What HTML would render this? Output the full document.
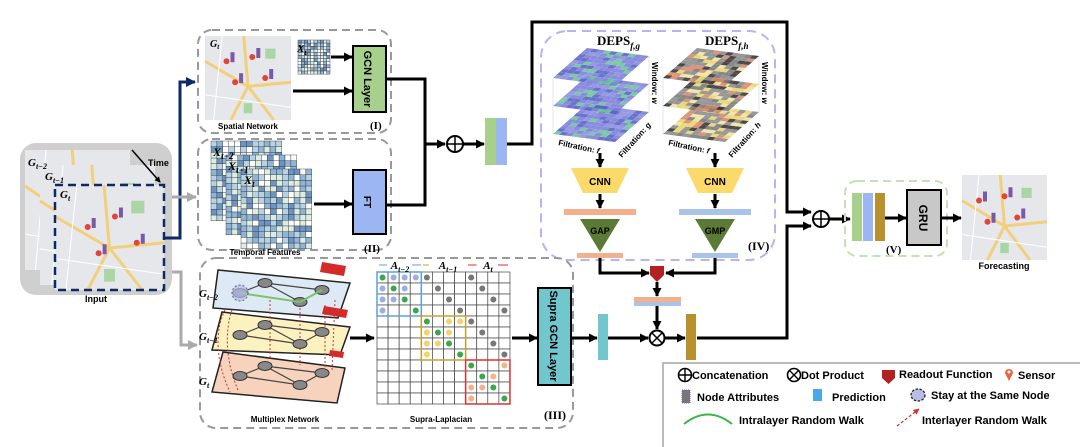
<!DOCTYPE html>
<html><head><meta charset="utf-8"><style>
html,body{margin:0;padding:0;background:#fff;}
svg{display:block;font-family:"Liberation Sans",sans-serif;}
.b{font-weight:bold;}
.s{font-family:"Liberation Serif",serif;font-weight:bold;font-style:italic;}
</style></head><body>
<svg id="s" width="1080" height="447" viewBox="0 0 1080 447" xmlns="http://www.w3.org/2000/svg">
<defs>
<marker id="ah" markerWidth="6" markerHeight="6" refX="5" refY="3" orient="auto" markerUnits="userSpaceOnUse"><path d="M0,0 L6,3 L0,6 z" fill="#000"/></marker>
<marker id="ahb" viewBox="0 0 10 10" markerWidth="9" markerHeight="9" refX="9" refY="5" orient="auto" markerUnits="userSpaceOnUse"><path d="M0,0 L10,5 L0,10 z" fill="#000"/></marker>
<marker id="ahn" viewBox="0 0 10 10" markerWidth="10" markerHeight="10" refX="9" refY="5" orient="auto" markerUnits="userSpaceOnUse"><path d="M0,0 L10,5 L0,10 z" fill="#0d2a66"/></marker>
<marker id="ahg" viewBox="0 0 10 10" markerWidth="10" markerHeight="10" refX="9" refY="5" orient="auto" markerUnits="userSpaceOnUse"><path d="M0,0 L10,5 L0,10 z" fill="#aaa"/></marker>
<marker id="ahr" viewBox="0 0 10 10" markerWidth="6" markerHeight="6" refX="9" refY="5" orient="auto" markerUnits="userSpaceOnUse"><path d="M0,0 L10,5 L0,10 z" fill="#c33"/></marker>
</defs>
<g id="g"></g>
</svg>
<script>
var S='';
function R(n){var x=Math.sin(n*12.9898+78.233)*43758.5453;return x-Math.floor(x);}
function map(x,y,w,h,k,pins){
 var s='<rect x="'+x+'" y="'+y+'" width="'+w+'" height="'+h+'" fill="#e6e7ea"/>';
 s+='<g stroke="#f2cf7a" stroke-width="3" fill="none">';
 s+='<path d="M'+x+','+(y+h*0.3)+' L'+(x+w*0.5)+','+(y+h*0.6)+' L'+(x+w)+','+(y+h*0.55)+'"/>';
 s+='<path d="M'+(x+w*0.45)+','+y+' L'+(x+w*0.5)+','+(y+h*0.6)+' L'+(x+w*0.3)+','+(y+h)+'"/>';
 s+='<path d="M'+(x+w*0.5)+','+(y+h*0.6)+' L'+(x+w*0.8)+','+(y+h)+'"/></g>';
 s+='<g stroke="#fff" stroke-width="1" fill="none"><path d="M'+x+','+(y+h*0.7)+' L'+(x+w)+','+(y+h*0.85)+'"/><path d="M'+(x+w*0.2)+','+y+' L'+(x+w*0.1)+','+(y+h)+'"/></g>';
 s+='<rect x="'+(x+w*0.7)+'" y="'+(y+h*0.15)+'" width="'+(w*0.12)+'" height="'+(h*0.12)+'" fill="#a9d6a4"/>';
 s+='<rect x="'+(x+w*0.45)+'" y="'+(y+h*0.8)+'" width="'+(w*0.1)+'" height="'+(h*0.12)+'" fill="#a9d6a4"/>';
 for(var i=0;i<pins.length;i++){var p=pins[i];s+='<circle cx="'+(x+p[0]*w)+'" cy="'+(y+p[1]*h)+'" r="3" fill="#e0453a"/><rect x="'+(x+p[0]*w+4)+'" y="'+(y+p[1]*h-9)+'" width="4" height="10" fill="#7a5aa8"/>';}
 return s;
}
function heat(x,y,cols,rows,cw,ch,seed){
 var c=['#ffffff','#dceee2','#b6d3e6','#8fb5d6','#6d93c0'],s='';
 for(var i=0;i<cols;i++)for(var j=0;j<rows;j++){var r=R(seed+i*31+j*7);s+='<rect x="'+(x+i*cw)+'" y="'+(y+j*ch)+'" width="'+cw+'" height="'+ch+'" fill="'+c[Math.floor(r*5)]+'" stroke="#333" stroke-width="0.4"/>';}
 return s;
}
function layer(e,f,pal,seed){
 var s='<g transform="matrix(6.2,0.8,3.4,-3.0,'+e+','+f+')">';
 for(var i=0;i<10;i++)for(var j=0;j<10;j++){var r=R(seed+i*13+j*17);s+='<rect x="'+i+'" y="'+j+'" width="1" height="1" fill="'+pal[Math.floor(r*pal.length)]+'" opacity="0.9"/>';}
 return s+'</g>';
}
// Input
S+='<rect x="20" y="143" width="152" height="152" rx="16" fill="#cfcfcf"/>';
S+=map(25,150,105,120,0,[]);S+=map(40,165,115,120,0,[]);
S+=map(55,185,109,105,0,[[0.3,0.4],[0.55,0.3],[0.4,0.65],[0.75,0.55]]);
S+='<rect x="55" y="185" width="109" height="105" fill="none" stroke="#0d2a66" stroke-width="2.5" stroke-dasharray="8,5"/>';
S+='<text x="28" y="166" class="s" font-size="11">G<tspan font-size="8" dy="3">t−2</tspan></text>';
S+='<text x="45" y="180" class="s" font-size="11">G<tspan font-size="8" dy="3">t−1</tspan></text>';
S+='<text x="60" y="198" class="s" font-size="11">G<tspan font-size="8" dy="3">t</tspan></text>';
S+='<line x1="132" y1="150" x2="160" y2="182" stroke="#000" stroke-width="1.5" marker-end="url(#ah)"/>';
S+='<text x="148" y="166" class="b" font-size="9">Time</text>';
S+='<text x="96" y="302" class="b" font-size="9" text-anchor="middle">Input</text>';
S+='<polyline points="164,238 180,238 180,82 195,82" fill="none" stroke="#0d2a66" stroke-width="3" marker-end="url(#ahn)"/>';
S+='<line x1="172" y1="197" x2="196" y2="197" stroke="#aaa" stroke-width="3" marker-end="url(#ahg)"/>';
S+='<polyline points="172,272 181,272 181,345 197,345" fill="none" stroke="#aaa" stroke-width="3" marker-end="url(#ahg)"/>';
// Box I
S+='<rect x="198" y="30" width="193" height="103" rx="14" fill="none" stroke="#999" stroke-width="2" stroke-dasharray="8,5"/>';
S+=map(205,36,86,84,0,[[0.25,0.3],[0.55,0.25],[0.35,0.55],[0.7,0.5]]);
S+='<text x="210" y="47" class="s" font-size="10">G<tspan font-size="7" dy="2">t</tspan></text>';
S+='<text x="248" y="129" class="b" font-size="8" text-anchor="middle">Spatial Network</text>';
S+=heat(298,40,10,11,3.2,3.1,5);
S+='<text x="297" y="52" class="s" font-size="11">X<tspan font-size="8" dy="3">t</tspan></text>';
S+='<line x1="331" y1="57" x2="352" y2="57" stroke="#000" stroke-width="3" marker-end="url(#ahb)"/>';
S+='<line x1="293" y1="91" x2="352" y2="91" stroke="#000" stroke-width="3" marker-end="url(#ahb)"/>';
S+='<rect x="353" y="46" width="33" height="66" fill="#a8d08d" stroke="#000" stroke-width="2"/>';
S+='<text transform="translate(364,79) rotate(90)" class="b" font-size="11" text-anchor="middle">GCN Layer</text>';
S+='<text x="370" y="129" class="s" font-size="11" style="font-style:normal">(I)</text>';
// Box II
S+='<rect x="198" y="139" width="193" height="111" rx="14" fill="none" stroke="#999" stroke-width="2" stroke-dasharray="8,5"/>';
S+=heat(211,141,12,14,5.9,5.7,11)+heat(226,155,12,14,5.9,5.7,23)+heat(241,169,12,14,5.9,5.7,37);
S+='<text x="213" y="156" class="s" font-size="12">X<tspan font-size="9" dy="3">t−2</tspan></text>';
S+='<text x="228" y="170" class="s" font-size="12">X<tspan font-size="9" dy="3">t−1</tspan></text>';
S+='<text x="244" y="184" class="s" font-size="12">X<tspan font-size="9" dy="3">t</tspan></text>';
S+='<text x="265" y="255" class="b" font-size="8" text-anchor="middle">Temporal Features</text>';
S+='<line x1="314" y1="204" x2="352" y2="204" stroke="#000" stroke-width="3" marker-end="url(#ahb)"/>';
S+='<rect x="353" y="170" width="33" height="64" fill="#9bb6f3" stroke="#000" stroke-width="2"/>';
S+='<text transform="translate(364,202) rotate(90)" class="b" font-size="10" text-anchor="middle">FT</text>';
S+='<text x="364" y="252" class="s" font-size="11" style="font-style:normal">(II)</text>';
// merge
S+='<polyline points="386,79 425,79 425,205 387,205" fill="none" stroke="#000" stroke-width="3"/>';
S+='<line x1="425" y1="144" x2="445" y2="144" stroke="#000" stroke-width="3" marker-end="url(#ahb)"/>';
S+='<circle cx="455" cy="144" r="8" fill="#fff" stroke="#000" stroke-width="2"/><path d="M447,144h16M455,136v16" stroke="#000" stroke-width="1.5"/>';
S+='<line x1="463" y1="144" x2="484" y2="144" stroke="#000" stroke-width="3" marker-end="url(#ahb)"/>';
S+='<rect x="485" y="118" width="11" height="47" fill="#a8d08d"/><rect x="496" y="118" width="11" height="47" fill="#9bb6f3"/>';
S+='<polyline points="507,144 532,144 532,22 787,22 787,212 811,212" fill="none" stroke="#000" stroke-width="3" marker-end="url(#ahb)"/>';
S+='<polyline points="697,338 787,338 787,226 811,226" fill="none" stroke="#000" stroke-width="3" marker-end="url(#ahb)"/>';
S+='<circle cx="821" cy="219" r="8" fill="#fff" stroke="#000" stroke-width="2"/><path d="M813,219h16M821,211v16" stroke="#000" stroke-width="1.5"/>';
S+='<line x1="829" y1="219" x2="850" y2="219" stroke="#000" stroke-width="3" marker-end="url(#ahb)"/>';
// Box IV
S+='<rect x="541" y="31" width="234" height="229" rx="26" fill="none" stroke="#b7b3f5" stroke-width="2" stroke-dasharray="9,6"/>';
S+='<text x="597" y="45" font-family="Liberation Serif,serif" font-weight="bold" font-size="13">DEPS<tspan font-size="9" dy="4" font-style="italic">f,g</tspan></text>';
S+='<text x="705" y="45" font-family="Liberation Serif,serif" font-weight="bold" font-size="13">DEPS<tspan font-size="9" dy="4" font-style="italic">f,h</tspan></text>';
var pa=['#7b80d8','#7b80d8','#8a8fe0','#6dc49c','#5b63c8'],pb=['#8c8c8c','#8c8c8c','#7a7a7a','#e8d56a','#d98a6a','#3a3535','#f0e3a0'];
S+='<g stroke="#ccc" stroke-width="0.5"><path d="M553,78 L553,134 M649,56 L649,112 M587,48 L587,104 M663,78 L663,134 M759,56 L759,112 M697,48 L697,104"/></g>';
S+=layer(553,134,pa,1)+layer(553,106,pa,2)+layer(553,78,pa,3);
S+=layer(663,134,pb,4)+layer(663,106,pb,5)+layer(663,78,pb,6);
function lbl(x,y,rot,t){return '<text transform="translate('+x+','+y+') rotate('+rot+')" class="b" font-size="8">'+t+'</text>';}
S+=lbl(558,145,12,'Filtration: <tspan font-style="italic">f</tspan>')+lbl(622,158,-48,'Filtration: <tspan font-style="italic">g</tspan>')+lbl(652,62,90,'Window: <tspan font-style="italic">w</tspan>');
S+=lbl(668,145,12,'Filtration: <tspan font-style="italic">f</tspan>')+lbl(732,158,-48,'Filtration: <tspan font-style="italic">h</tspan>')+lbl(762,62,90,'Window: <tspan font-style="italic">w</tspan>');
function col(cx,bc,tc,lab){
 var s='<line x1="'+cx+'" y1="153" x2="'+cx+'" y2="167" stroke="#000" stroke-width="3" marker-end="url(#ahb)"/>';
 s+='<polygon points="'+(cx-29)+',168 '+(cx+29)+',168 '+(cx+17)+',193 '+(cx-17)+',193" fill="#fcd96b"/>';
 s+='<text x="'+cx+'" y="185" class="b" font-size="10" text-anchor="middle">CNN</text>';
 s+='<line x1="'+cx+'" y1="194" x2="'+cx+'" y2="208" stroke="#000" stroke-width="3" marker-end="url(#ahb)"/>';
 s+='<rect x="'+(cx-36)+'" y="209" width="72" height="6" fill="'+bc+'"/>';
 s+='<polygon points="'+(cx-20)+',219 '+(cx+20)+',219 '+cx+',252" fill="#5a7a35"/>';
 s+='<text x="'+cx+'" y="234" class="b" font-size="9" text-anchor="middle">'+lab+'</text>';
 s+='<rect x="'+(cx-23)+'" y="253" width="46" height="5" fill="'+bc+'"/>';
 return s;}
S+=col(600,'#f2b08d','','GAP')+col(715,'#a9c4e8','','GMP');
S+='<text x="748" y="250" font-family="Liberation Serif,serif" font-weight="bold" font-size="12">(IV)</text>';
// readout
S+='<polyline points="600,258 600,273 649,273" fill="none" stroke="#000" stroke-width="3" marker-end="url(#ahb)"/>';
S+='<polyline points="715,258 715,273 666,273" fill="none" stroke="#000" stroke-width="3" marker-end="url(#ahb)"/>';
S+='<polygon points="650,266 664,266 664,275 657,282 650,275" fill="#b22222"/>';
S+='<line x1="657" y1="282" x2="657" y2="296" stroke="#000" stroke-width="3" marker-end="url(#ahb)"/>';
S+='<rect x="634" y="297" width="47" height="5" fill="#f2b08d"/><rect x="634" y="302" width="47" height="4" fill="#a9c4e8"/>';
S+='<line x1="657" y1="306" x2="657" y2="329" stroke="#000" stroke-width="3" marker-end="url(#ahb)"/>';
S+='<circle cx="657" cy="338" r="7.5" fill="#fff" stroke="#000" stroke-width="2"/><path d="M652,333l10,10M662,333l-10,10" stroke="#000" stroke-width="1.5"/>';
S+='<rect x="598" y="314" width="10" height="46" fill="#72c7cf"/>';
S+='<line x1="608" y1="338" x2="648" y2="338" stroke="#000" stroke-width="3" marker-end="url(#ahb)"/>';
S+='<line x1="665" y1="338" x2="685" y2="338" stroke="#000" stroke-width="3" marker-end="url(#ahb)"/>';
S+='<rect x="686" y="314" width="10" height="46" fill="#b8902e"/>';
// Box III
S+='<rect x="200" y="258" width="373" height="170" rx="16" fill="none" stroke="#999" stroke-width="2" stroke-dasharray="8,5"/>';
function para(p,fill){return '<polygon points="'+p+'" fill="'+fill+'" stroke="#222" stroke-width="1.5"/>';}
S+=para('223,352 345,368 337,403 212,392','#f7d3bd');
S+=para('222,312 350,327 340,355 212,350','#fbf2c0');
S+=para('218,270 350,283 338,318 213,308','#dde9f4');
S+='<g stroke="#c33" stroke-width="1" stroke-dasharray="2,2" fill="none"><path d="M225,310 C215,330 215,360 230,392"/><path d="M232,310 C225,330 225,360 238,390"/><path d="M270,300 L270,360"/><path d="M300,300 L300,365"/><path d="M325,305 L325,375"/><path d="M335,300 L332,370"/></g>';
function nd(dy){var s='<g stroke="#444" stroke-width="1.2" fill="none"><path d="M240,'+(293+dy)+' L265,'+(283+dy)+' L300,'+(302+dy)+' L322,'+(290+dy)+' M265,'+(283+dy)+' L300,'+(302+dy)+' M240,'+(293+dy)+' L300,'+(302+dy)+' M265,'+(283+dy)+' L322,'+(290+dy)+'"/></g>';
 var ps=[[240,293],[265,283],[300,302],[322,290]];for(var i=0;i<4;i++)s+='<ellipse cx="'+ps[i][0]+'" cy="'+(ps[i][1]+dy)+'" rx="7" ry="4.5" fill="#888" stroke="#333"/>';return s;}
S+=nd(0)+nd(42)+nd(83);
S+='<path d="M240,293 L300,302 L322,290" stroke="#7cc46a" stroke-width="2" fill="none"/><circle cx="240" cy="293" r="8" fill="#b8bde8" opacity="0.7" stroke="#333" stroke-dasharray="2,2"/>';
S+='<polygon points="322,262 346,266 344,276 320,272" fill="#d42a2a"/>';
S+='<polygon points="324,306 348,310 346,318 322,314" fill="#d42a2a"/><polygon points="330,350 344,352 343,358 329,356" fill="#d42a2a"/>';
S+='<text x="199" y="297" class="s" font-size="11">G<tspan font-size="8" dy="3">t−2</tspan></text>';
S+='<text x="199" y="340" class="s" font-size="11">G<tspan font-size="8" dy="3">t−1</tspan></text>';
S+='<text x="199" y="385" class="s" font-size="11">G<tspan font-size="8" dy="3">t</tspan></text>';
S+='<text x="285" y="422" class="b" font-size="8" text-anchor="middle">Multiplex Network</text>';
S+='<line x1="350" y1="338" x2="374" y2="338" stroke="#000" stroke-width="3" marker-end="url(#ahb)"/>';
// supra grid
var gx=377,gy=272,cw=11.08,chh=11;
for(var i=0;i<12;i++)for(var j=0;j<12;j++)S+='<rect x="'+(gx+i*cw)+'" y="'+(gy+j*chh)+'" width="'+cw+'" height="'+chh+'" fill="#fff" stroke="#444" stroke-width="0.7"/>';
var bc=['#5aa0e0','#c9a030','#e03030'],dc=['#9aaee8','#f5d36a','#f0b48a'];
for(var b=0;b<3;b++){for(var i=0;i<4;i++)for(var j=0;j<4;j++){var on=(i==j)||(i+j<4&&R(b*50+i*4+j)>0.2);if(i+j>=4&&i!=j)continue;if(!on)continue;S+='<circle cx="'+(gx+(b*4+i+0.5)*cw)+'" cy="'+(gy+(b*4+j+0.5)*chh)+'" r="3" fill="'+(i==j?'#3aa84a':dc[b])+'"/>';}
 S+='<rect x="'+(gx+b*4*cw)+'" y="'+(gy+b*4*chh)+'" width="'+(4*cw)+'" height="'+(4*chh)+'" fill="none" stroke="'+bc[b]+'" stroke-width="1.5"/>';}
for(var k=0;k<8;k++){var i=k+4,j=k;S+='<circle cx="'+(gx+(i+0.5)*cw)+'" cy="'+(gy+(j+0.5)*chh)+'" r="3" fill="#777"/>';}
for(var k=0;k<4;k++){var i=k+8,j=k;S+='<circle cx="'+(gx+(i+0.5)*cw)+'" cy="'+(gy+(j+0.5)*chh)+'" r="3" fill="#777"/>';}
S+='<text x="400" y="269" class="s" font-size="11" text-anchor="middle">A<tspan font-size="8" dy="3">t−2</tspan></text>';
S+='<text x="448" y="269" class="s" font-size="11" text-anchor="middle">A<tspan font-size="8" dy="3">t−1</tspan></text>';
S+='<text x="488" y="269" class="s" font-size="11" text-anchor="middle">A<tspan font-size="8" dy="3">t</tspan></text>';
S+='<g stroke-width="1"><path d="M379,265h8M412,265h9" stroke="#5aa0e0"/><path d="M423,265h6M468,265h9" stroke="#c9a030"/><path d="M468,265h8M498,265h10" stroke="#e03030"/></g>';
S+='<text x="441" y="422" class="b" font-size="8" text-anchor="middle">Supra-Laplacian</text>';
S+='<line x1="512" y1="338" x2="537" y2="338" stroke="#000" stroke-width="3" marker-end="url(#ahb)"/>';
S+='<rect x="538" y="288" width="33" height="97" fill="#72c7cf" stroke="#000" stroke-width="2"/>';
S+='<text transform="translate(550,336) rotate(90)" class="b" font-size="11" text-anchor="middle">Supra GCN Layer</text>';
S+='<line x1="571" y1="338" x2="597" y2="338" stroke="#000" stroke-width="3" marker-end="url(#ahb)"/>';
S+='<text x="544" y="419" font-family="Liberation Serif,serif" font-weight="bold" font-size="12">(III)</text>';
// Box V
S+='<rect x="845" y="181" width="102" height="75" rx="12" fill="none" stroke="#c5e0b4" stroke-width="2" stroke-dasharray="8,5"/>';
S+='<rect x="852" y="193" width="10" height="48" fill="#a8d08d"/><rect x="863" y="193" width="10" height="48" fill="#9bb6f3"/><rect x="875" y="193" width="10" height="48" fill="#b8902e"/>';
S+='<line x1="885" y1="218" x2="906" y2="218" stroke="#000" stroke-width="3" marker-end="url(#ahb)"/>';
S+='<rect x="907" y="190" width="34" height="55" fill="#c8c8c8" stroke="#000" stroke-width="2"/>';
S+='<text transform="translate(919,218) rotate(90)" class="b" font-size="12" text-anchor="middle">GRU</text>';
S+='<text x="886" y="253" font-family="Liberation Serif,serif" font-weight="bold" font-size="11">(V)</text>';
S+='<line x1="942" y1="218" x2="961" y2="218" stroke="#000" stroke-width="3" marker-end="url(#ahb)"/>';
S+=map(962,175,85,85,0,[[0.2,0.3],[0.5,0.25],[0.3,0.55],[0.65,0.5]]);
S+='<text x="1004" y="269" class="b" font-size="9" text-anchor="middle">Forecasting</text>';
// legend
S+='<polyline points="663,447 663,363 1080,363" fill="none" stroke="#bbb" stroke-width="2"/>';
S+='<circle cx="685" cy="375" r="6.5" fill="none" stroke="#000" stroke-width="1.6"/><path d="M678.5,375h13M685,368.5v13" stroke="#000" stroke-width="1.4"/>';
S+='<text x="692" y="379" class="b" font-size="11">Concatenation</text>';
S+='<circle cx="794" cy="375" r="6.5" fill="none" stroke="#000" stroke-width="1.6"/><path d="M789.5,370.5l9,9M798.5,370.5l-9,9" stroke="#000" stroke-width="1.4"/>';
S+='<text x="801" y="379" class="b" font-size="11">Dot Product</text>';
S+='<polygon points="882,370 895,370 895,378 888.5,384 882,378" fill="#b22222"/>';
S+='<text x="899" y="378" class="b" font-size="11">Readout Function</text>';
S+='<path d="M1009,381 L1005,373 A4,4 0 1 1 1013,373 Z" fill="#e8643c"/><circle cx="1009" cy="372" r="1.5" fill="#fff"/>';
S+='<text x="1018" y="379" class="b" font-size="11">Sensor</text>';
S+='<rect x="682" y="390" width="8" height="13" fill="#777" stroke="#8a5cc0" stroke-dasharray="1,1"/>';
S+='<text x="697" y="401" class="b" font-size="11">Node Attributes</text>';
S+='<rect x="813" y="389" width="9" height="12" fill="#4aa8e8"/>';
S+='<text x="832" y="401" class="b" font-size="11">Prediction</text>';
S+='<ellipse cx="918" cy="395" rx="7" ry="6" fill="#b8bde8" stroke="#222" stroke-width="1.3" stroke-dasharray="2.5,1.5"/>';
S+='<text x="931" y="399" class="b" font-size="11">Stay at the Same Node</text>';
S+='<path d="M684,424 Q708,405 732,424" fill="none" stroke="#3cb44b" stroke-width="2"/>';
S+='<text x="739" y="424" class="b" font-size="11">Intralayer Random Walk</text>';
S+='<line x1="897" y1="426" x2="919" y2="409" stroke="#c33" stroke-width="1.2" stroke-dasharray="3,2" marker-end="url(#ahr)"/>';
S+='<text x="922" y="424" class="b" font-size="11">Interlayer Random Walk</text>';
document.getElementById('g').innerHTML=S;
</script>
</body></html>
